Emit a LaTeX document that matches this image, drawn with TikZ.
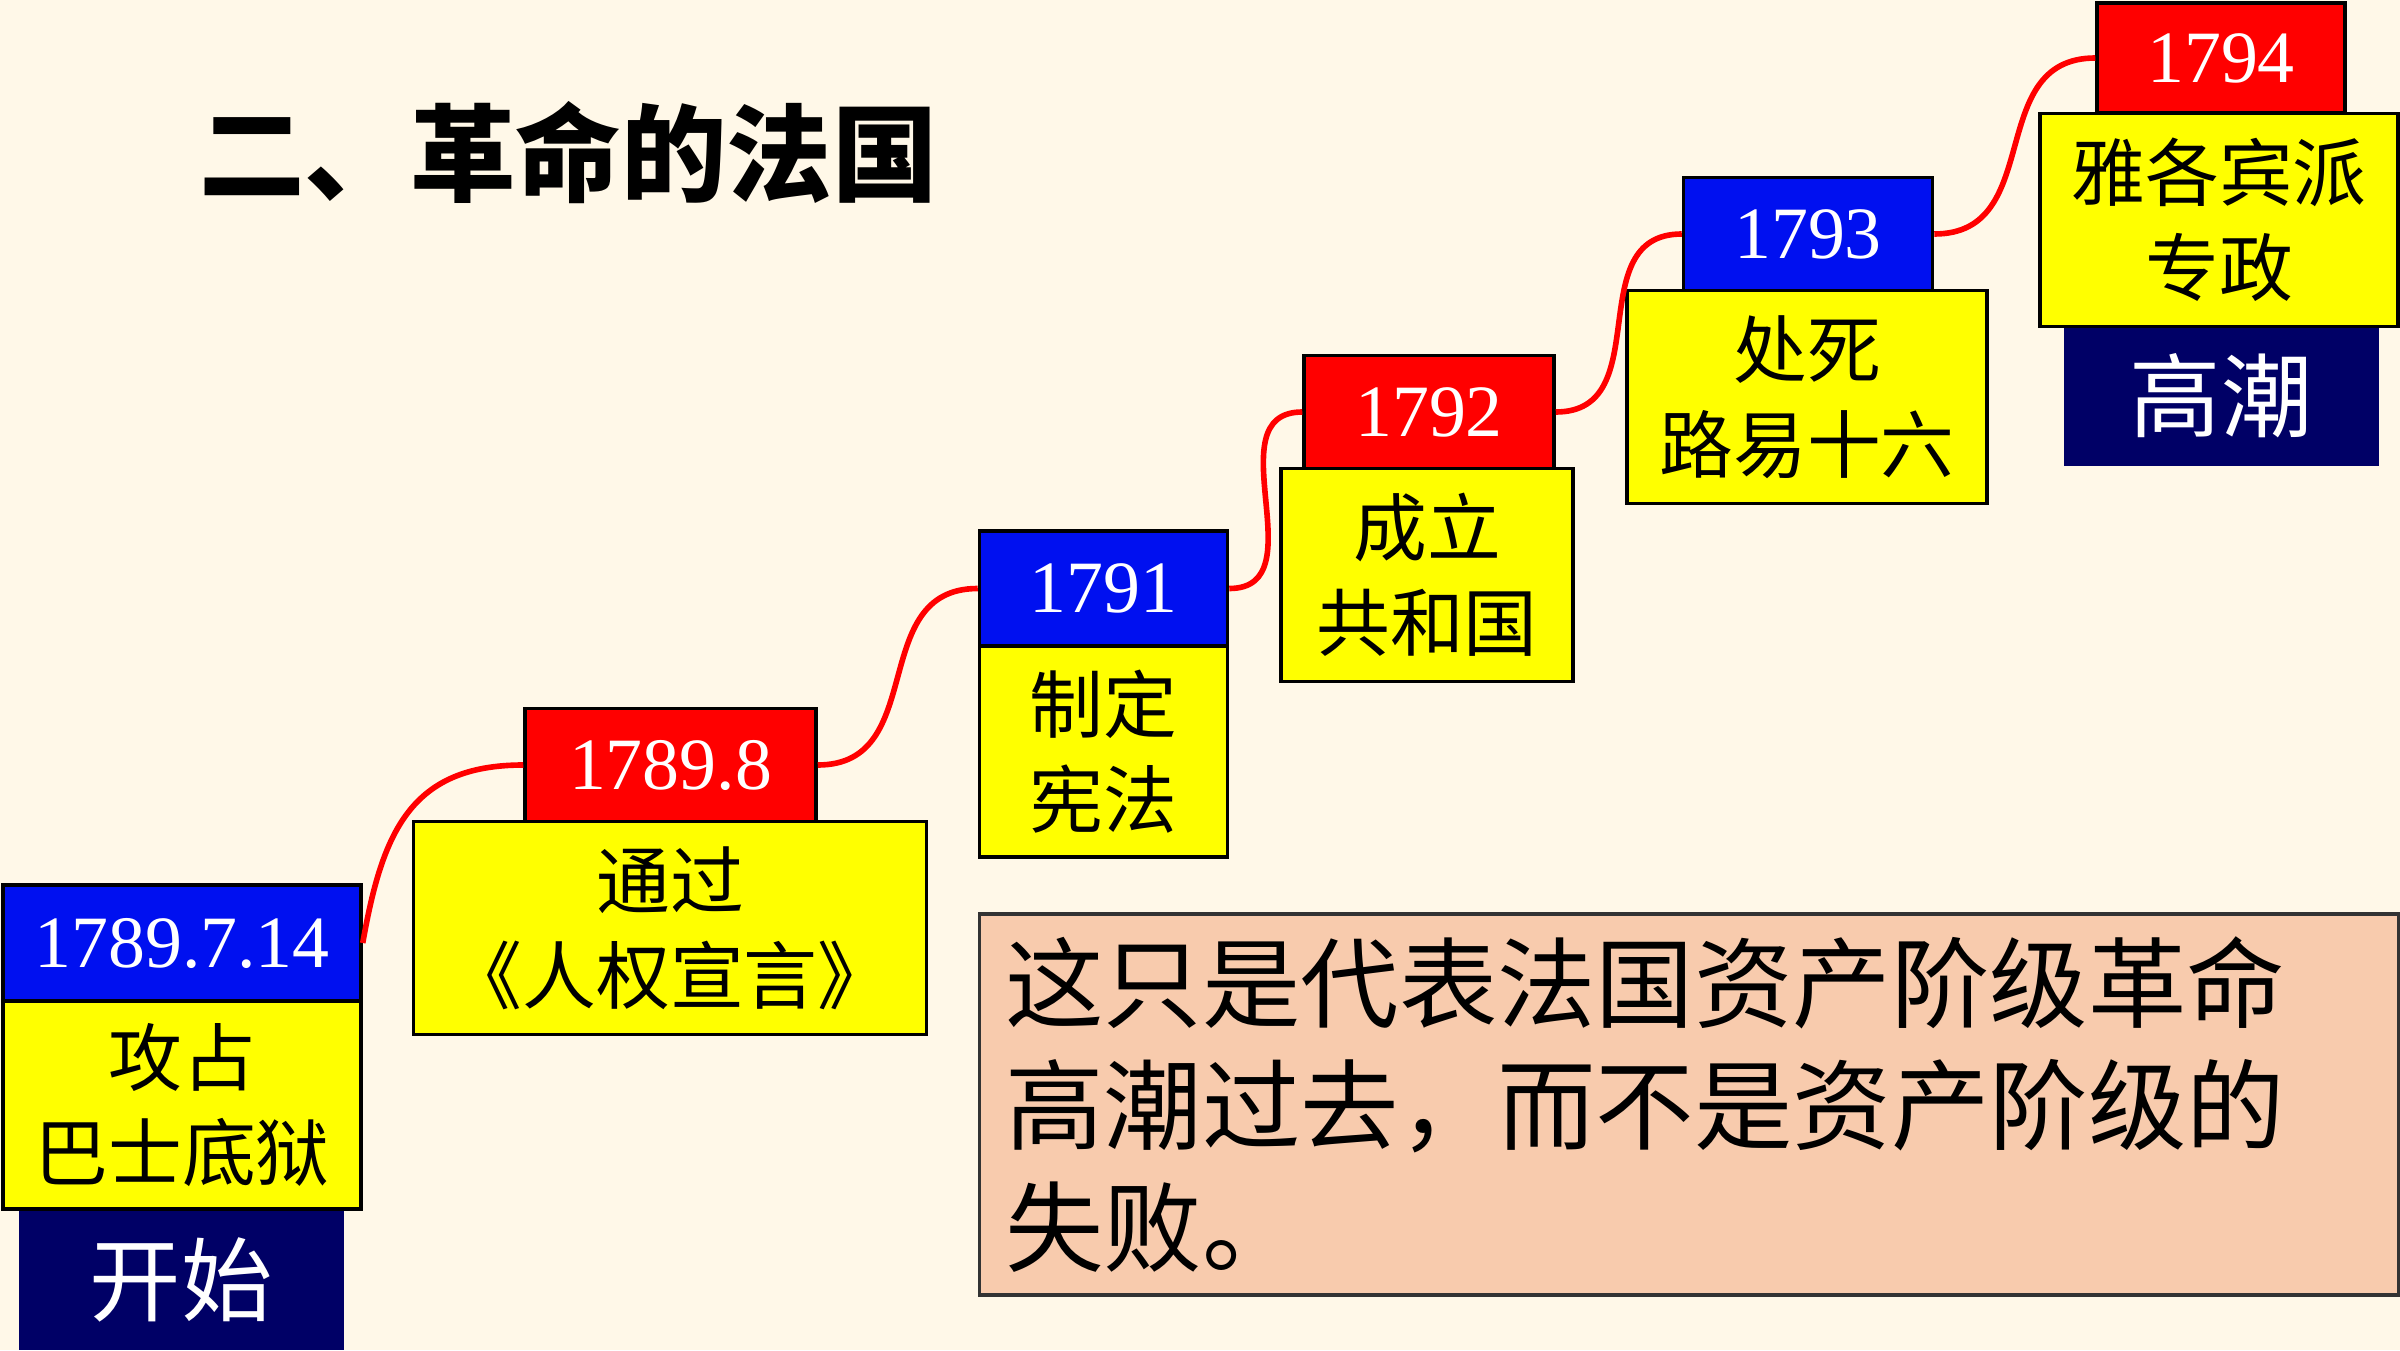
\documentclass[tikz,border=0pt]{standalone}
\usepackage{fontspec}
\setmainfont{Liberation Serif}
\newfontfamily\cjk{Noto Sans CJK SC}
\definecolor{bg}{HTML}{FFF8E8}
\definecolor{dblue}{HTML}{0010F0}
\definecolor{dred}{HTML}{FF0000}
\definecolor{yel}{HTML}{FFFF00}
\definecolor{navy}{HTML}{000066}
\definecolor{peach}{HTML}{F8CBAD}

\begin{document}
\begin{tikzpicture}[
  datebox/.style={rectangle, draw=black, line width=1pt, inner sep=0pt, text=white, font=\fontsize{21pt}{25pt}\selectfont},
  eventbox/.style={rectangle, draw=black, line width=1pt, inner sep=0pt, fill=yel, align=center, font=\cjk\fontsize{21pt}{27pt}\selectfont},
  stagebox/.style={rectangle, fill=navy, inner sep=0pt, text=white, font=\cjk\fontsize{26pt}{30pt}\selectfont},
  link/.style={draw=dred, line width=1.6pt, looseness=1.2},
]
\fill[bg] (0,0) rectangle (24,13.5);
\useasboundingbox (0,0) rectangle (24,13.5);
\node[font=\cjk\bfseries\fontsize{30pt}{36pt}\selectfont, anchor=west] (title) at (1.87,11.97) {二、革命的法国};
% 1789.7.14
\node[stagebox, minimum width=3.25cm, minimum height=1.41cm] (s1) at (1.81,0.705) {开始};
\node[eventbox, minimum width=3.58cm, minimum height=2.08cm] (e1) at (1.82,2.45) {攻占\\巴士底狱};
\node[datebox, fill=dblue, minimum width=3.58cm, minimum height=1.16cm] (d1) at (1.82,4.07) {1789.7.14};
% 1789.8
\node[eventbox, minimum width=5.13cm, minimum height=2.13cm] (e2) at (6.70,4.22) {通过\\《人权宣言》};
\node[datebox, fill=dred, minimum width=2.91cm, minimum height=1.13cm] (d2) at (6.705,5.85) {1789.8};
% 1791
\node[eventbox, minimum width=2.48cm, minimum height=2.11cm] (e3) at (11.035,5.985) {制定\\宪法};
\node[datebox, fill=dblue, minimum width=2.48cm, minimum height=1.15cm] (d3) at (11.035,7.615) {1791};
% 1792
\node[eventbox, minimum width=2.92cm, minimum height=2.13cm] (e4) at (14.27,7.75) {成立\\共和国};
\node[datebox, fill=dred, minimum width=2.5cm, minimum height=1.13cm] (d4) at (14.29,9.38) {1792};
% 1793
\node[eventbox, minimum width=3.6cm, minimum height=2.13cm] (e5) at (18.07,9.53) {处死\\路易十六};
\node[datebox, fill=dblue, minimum width=2.49cm, minimum height=1.13cm] (d5) at (18.08,11.16) {1793};
% 1794
\node[stagebox, minimum width=3.15cm, minimum height=1.39cm] (s2) at (22.21,9.54) {高潮};
\node[eventbox, minimum width=3.58cm, minimum height=2.13cm] (e6) at (22.19,11.30) {雅各宾派\\专政};
\node[datebox, fill=dred, minimum width=2.48cm, minimum height=1.1cm] (d6) at (22.21,12.92) {1794};
% links
\draw[link] (d1.east) to[out=80,in=180] (d2.west);
\draw[link] (d2.east) to[out=0,in=180] (d3.west);
\draw[link] (d3.east) to[out=0,in=180] (d4.west);
\draw[link] (d4.east) to[out=0,in=180] (d5.west);
\draw[link] (d5.east) to[out=0,in=180] (d6.west);
% note
\node[rectangle, draw=black!80, line width=1pt, fill=peach, inner xsep=0.26cm, inner ysep=0pt, minimum height=3.81cm, text width=13.67cm, align=left, font=\cjk\fontsize{28pt}{34.7pt}\selectfont] (note) at (16.89,2.457) {这只是代表法国资产阶级革命\\高潮过去，而不是资产阶级的\\失败。};
\end{tikzpicture}
\end{document}
